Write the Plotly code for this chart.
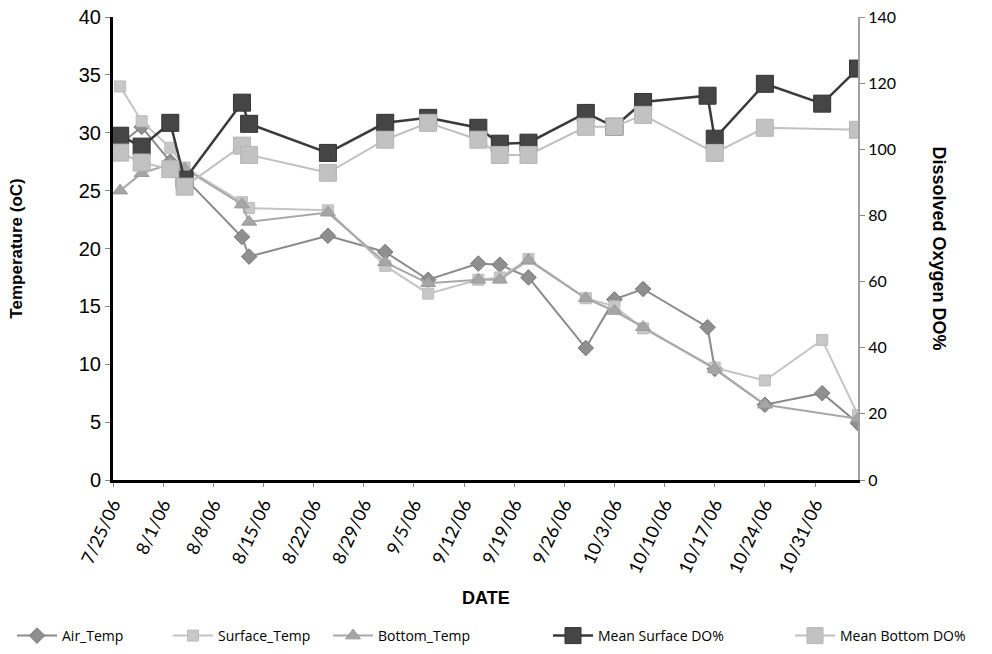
import plotly.graph_objects as go

# Sampling dates (2006)
dates = ["2006-07-26", "2006-07-29", "2006-08-02", "2006-08-04", "2006-08-12",
         "2006-08-13", "2006-08-24", "2006-09-01", "2006-09-07", "2006-09-14",
         "2006-09-17", "2006-09-21", "2006-09-29", "2006-10-03", "2006-10-07",
         "2006-10-16", "2006-10-17", "2006-10-24", "2006-11-01", "2006-11-06"]

# Temperatures (oC)
air_temp = [29.0, 30.5, 27.5, 26.1, 21.0, 19.3, 21.1, 19.7, 17.3, 18.7,
            18.6, 17.5, 11.4, 15.6, 16.5, 13.2, 9.6, 6.5, 7.5, 4.9]
surface_temp = [34.0, 31.0, 28.7, 27.0, 24.0, 23.5, 23.3, 18.5, 16.1, 17.3,
                17.5, 19.1, 15.7, 15.0, 13.1, None, 9.7, 8.6, 12.1, 5.6]
bottom_temp = [25.0, 26.5, 27.3, 26.9, 23.8, 22.3, 23.1, 18.8, 17.0, 17.3,
               17.3, 19.0, 15.7, 14.6, 13.2, None, 9.6, 6.5, None, 5.3]

# Dissolved oxygen (% saturation)
surface_do = [104.1, 100.8, 108.0, 90.8, 114.1, 107.7, 98.9, 108.0, 109.5, 106.5,
              101.7, 102.0, 111.0, 106.8, 114.3, 116.2, 103.2, 119.8, 113.8, 124.4]
bottom_do = [99.0, 96.0, 94.0, 88.7, 101.1, 98.3, 92.9, 102.9, 108.0, 102.9,
             98.3, 98.3, 106.8, 106.8, 110.4, None, 98.9, 106.5, None, 105.9]

series_names = ["Air_Temp", "Surface_Temp", "Bottom_Temp", "Mean Surface DO%", "Mean Bottom DO%"]

fig = go.Figure()

fig.add_trace(go.Scatter(
    x=dates, y=air_temp, name=series_names[0], mode="lines+markers", connectgaps=True,
    legend="legend",
    line=dict(color="#8a8a8a", width=2),
    marker=dict(symbol="diamond", size=12, color="#8f8f8f", line=dict(color="#7a7a7a", width=1))))
fig.add_trace(go.Scatter(
    x=dates, y=surface_temp, name=series_names[1], mode="lines+markers", connectgaps=True,
    legend="legend2",
    line=dict(color="#c4c4c4", width=2),
    marker=dict(symbol="square", size=11, color="#c8c8c8", line=dict(color="#bbbbbb", width=1))))
fig.add_trace(go.Scatter(
    x=dates, y=bottom_temp, name=series_names[2], mode="lines+markers", connectgaps=True,
    legend="legend3",
    line=dict(color="#a8a8a8", width=2),
    marker=dict(symbol="triangle-up", size=13, color="#a6a6a6", line=dict(color="#9a9a9a", width=1))))
fig.add_trace(go.Scatter(
    x=dates, y=surface_do, name=series_names[3], mode="lines+markers", connectgaps=True,
    yaxis="y2", legend="legend4",
    line=dict(color="#3a3a3a", width=2.5),
    marker=dict(symbol="square", size=17, color="#454545", line=dict(color="#333333", width=1))))
fig.add_trace(go.Scatter(
    x=dates, y=bottom_do, name=series_names[4], mode="lines+markers", connectgaps=True,
    yaxis="y2", legend="legend5",
    line=dict(color="#c0c0c0", width=2),
    marker=dict(symbol="square", size=17, color="#c2c2c2", line=dict(color="#b5b5b5", width=1))))

# one legend box per series, spread along the bottom row
legend_font = dict(family="Open Sans", size=14, color="black")
legend_x_px = [12, 168, 328, 548, 790]
plot_left, plot_width, plot_height = 113, 745, 463
legend_layout = {}
for i, px in enumerate(legend_x_px):
    key = "legend" if i == 0 else f"legend{i + 1}"
    legend_layout[key] = dict(
        orientation="h", x=(px - plot_left) / plot_width, xanchor="left",
        y=(480 - 636) / plot_height, yanchor="middle", font=legend_font,
        bgcolor="rgba(0,0,0,0)", itemwidth=40,
    )

fig.update_layout(
    width=992, height=654,
    margin=dict(l=113, r=134, t=17, b=174, autoexpand=False),
    paper_bgcolor="white", plot_bgcolor="white",
    font=dict(family="Liberation Sans, Arial", color="black"),
    xaxis=dict(
        type="date", range=["2006-07-25", "2006-11-06"],
        tick0="2006-07-25", dtick=7 * 24 * 3600 * 1000, tickformat="%-m/%-d/%y",
        tickangle=-65, tickfont=dict(family="Lato", size=18, color="black"),
        showgrid=False, zeroline=False, automargin=False,
        showline=True, linecolor="black", linewidth=3,
        ticks="outside", ticklen=4, tickcolor="#888888", tickwidth=1,
    ),
    yaxis=dict(
        range=[0, 40], dtick=5, showgrid=False, zeroline=False, automargin=False,
        showline=True, linecolor="black", linewidth=3,
        ticks="outside", ticklen=5, tickcolor="#888888", tickwidth=1,
        tickfont=dict(family="Liberation Sans, Arial", size=20, color="black"),
    ),
    yaxis2=dict(
        range=[0, 140], dtick=20, overlaying="y", side="right", anchor="x",
        showgrid=False, zeroline=False, automargin=False,
        showline=True, linecolor="#a0a0a0", linewidth=2,
        ticks="outside", ticklen=5, tickcolor="#888888", tickwidth=1,
        tickfont=dict(family="Lato", size=16, color="black"),
    ),
    showlegend=True,
    annotations=[
        dict(text="<b>Temperature (oC)</b>", xref="paper", yref="paper",
             x=-0.13, y=0.5, textangle=-90, showarrow=False,
             font=dict(family="Liberation Sans, Arial", size=17, color="black"),
             xanchor="center", yanchor="middle"),
        dict(text="<b>Dissolved Oxygen DO%</b>", xref="paper", yref="paper",
             x=1.11, y=0.5, textangle=90, showarrow=False,
             font=dict(family="Liberation Sans, Arial", size=18, color="black"),
             xanchor="center", yanchor="middle"),
        dict(text="<b>DATE</b>", xref="paper", yref="paper",
             x=0.5, y=(480 - 598) / plot_height, showarrow=False,
             font=dict(family="Liberation Sans, Arial", size=18, color="black"),
             xanchor="center", yanchor="middle"),
    ],
    **legend_layout,
)

fig.write_html("out.html")
